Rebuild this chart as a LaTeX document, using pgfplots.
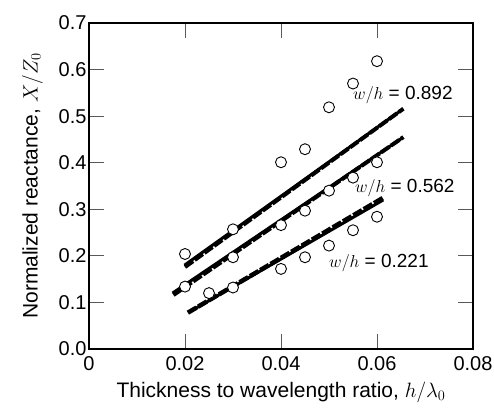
\documentclass[border=0pt]{standalone}
\usepackage{fontspec}
\setmainfont{Liberation Sans}
\usepackage{pgfplots}
\pgfplotsset{compat=1.18}
\begin{document}
\begin{tikzpicture}[font=\fontsize{20}{22}\selectfont]
\begin{axis}[
    scale only axis,
    width=384pt, height=326pt,
    xmin=0, xmax=0.08, ymin=0, ymax=0.7,
    xtick={0,0.02,0.04,0.06,0.08},
    ytick={0,0.1,...,0.7},
    xticklabels={0,0.02,0.04,0.06,0.08},
    scaled x ticks=false,
    yticklabel style={xshift=1pt, /pgf/number format/fixed, /pgf/number format/fixed zerofill, /pgf/number format/precision=1},
    /pgf/number format/assume math mode=true,
    tick label style={font=\fontsize{20}{22}\selectfont},
    label style={font=\fontsize{21}{23}\selectfont},
    xticklabel style={yshift=-4pt},
    tick align=inside,
    major tick length=15pt,
    tick style={line width=0.8pt, black!65},
    axis line style={line width=1.6pt},
    xlabel={Thickness to wavelength ratio, $h/\lambda_0$},
    ylabel={Normalized reactance, $X/Z_0$},
    xlabel style={yshift=-4pt},
    ylabel style={yshift=9pt},
    clip=false,
]
% w/h = 0.892
\addplot[line width=4pt, dash pattern=on 10pt off 2pt] coordinates {(0.0200,0.176) (0.0655,0.516)};
\addplot[line width=3pt] coordinates {(0.0199,0.180) (0.0651,0.513)};
% w/h = 0.562
\addplot[line width=4pt, dash pattern=on 10pt off 2pt] coordinates {(0.0176,0.116) (0.0655,0.455)};
\addplot[line width=3pt] coordinates {(0.0174,0.120) (0.0651,0.452)};
% w/h = 0.221
\addplot[line width=4.5pt, dash pattern=on 10pt off 2pt] coordinates {(0.0206,0.078) (0.0615,0.326)};
\addplot[line width=3pt] coordinates {(0.0210,0.080) (0.0613,0.320)};
% measured
\addplot[only marks, mark=*, mark size=5.5pt, mark options={fill=white, draw=black, line width=0.9pt}] coordinates {
 (0.02,0.204) (0.03,0.257) (0.04,0.401) (0.045,0.429) (0.05,0.519) (0.055,0.570) (0.06,0.618)};
\addplot[only marks, mark=*, mark size=5.5pt, mark options={fill=white, draw=black, line width=0.9pt}] coordinates {
 (0.02,0.134) (0.03,0.197) (0.04,0.266) (0.045,0.297) (0.05,0.340) (0.055,0.368) (0.06,0.401)};
\addplot[only marks, mark=*, mark size=5.5pt, mark options={fill=white, draw=black, line width=0.9pt}] coordinates {
 (0.025,0.120) (0.03,0.132) (0.04,0.172) (0.045,0.197) (0.05,0.222) (0.055,0.255) (0.06,0.284)};
\node[anchor=west, inner sep=0pt, font=\fontsize{19}{21}\selectfont] at (axis cs:0.0550,0.545) {$w/h$ = 0.892};
\node[anchor=west, inner sep=0pt, font=\fontsize{19}{21}\selectfont] at (axis cs:0.0554,0.345) {$w/h$ = 0.562};
\node[anchor=west, inner sep=0pt, font=\fontsize{19}{21}\selectfont] at (axis cs:0.0500,0.184) {$w/h$ = 0.221};
\end{axis}
\pgfresetboundingbox
\path (current axis.south west) ++(-89pt,-63pt) coordinate (bl);
\path (current axis.north east) ++(21pt,23pt) coordinate (tr);
\useasboundingbox (bl) rectangle (tr);
\end{tikzpicture}
\end{document}
